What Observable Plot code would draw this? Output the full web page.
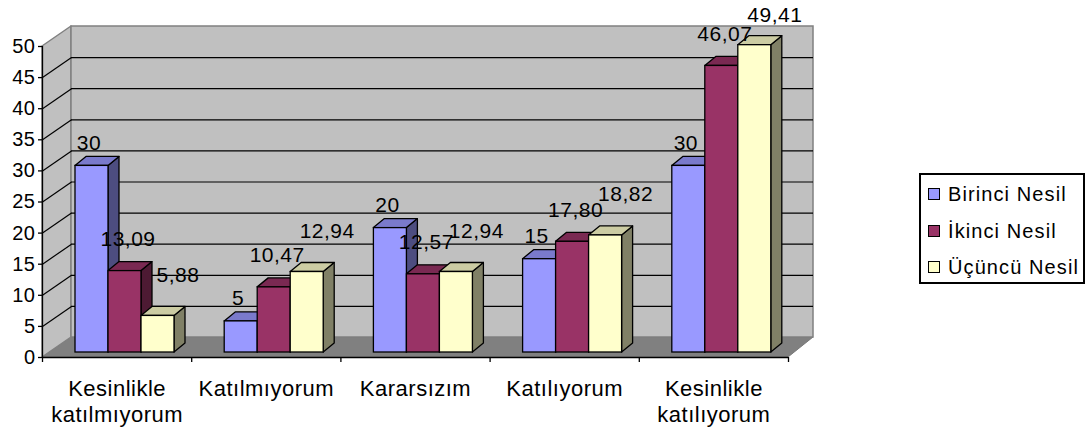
<!DOCTYPE html>
<html><head><meta charset="utf-8">
<script src="https://cdn.jsdelivr.net/npm/d3@7"></script>
<script src="https://cdn.jsdelivr.net/npm/@observablehq/plot@0.6"></script>
<style>
body{margin:0;background:#fff;font-family:"Liberation Sans",Arial,sans-serif}
#wrap{position:relative;width:1086px;height:430px}
#wrap svg text{letter-spacing:0.5px}
#legend{position:absolute;left:919px;top:173px;width:162px;height:107px;border:2px solid #000;background:#fff;box-sizing:content-box}
.row{position:absolute;left:0;height:24px;display:flex;align-items:center;font-size:20px;letter-spacing:1.1px;white-space:nowrap;color:#000}
.sw{width:12px;height:12px;box-sizing:border-box;border:1px solid #000;margin-left:7px;margin-right:8px}
</style></head><body><div id="wrap"></div>
<script>
// ---- data ----
const categories = ["Kesinlikle katılmıyorum", "Katılmıyorum", "Kararsızım", "Katılıyorum", "Kesinlikle katılıyorum"];
const series = ["Birinci Nesil", "İkinci Nesil", "Üçüncü Nesil"];
const birinci = [30, 5, 20, 15, 30];
const ikinci = [13.09, 10.47, 12.57, 17.80, 46.07];
const ucuncu = [5.88, 12.94, 12.94, 18.82, 49.41];
const yTicks = [0, 5, 10, 15, 20, 25, 30, 35, 40, 45, 50];

// ---- styling ----
const frontColors = ["#9999ff", "#993366", "#ffffcc"];
const topColors = ["#7a7acc", "#7a2952", "#cccca3"];
const sideColors = ["#4d4d80", "#4d1a33", "#808066"];

const W = 1086, H = 430, mL = 42, mR = 1086 - 788, mT = 46, mB = 430 - 357;
const yMax = 50;
const PX = (W - mL - mR) / categories.length; // px per category unit
const PY = (H - mT - mB) / yMax;              // px per value unit
const px = p => p / PX, py = p => p / PY;
const wallL = px(29), wallR = px(25), wallUp = py(20);
const barOff = px(33), barW = px(33), barBase = py(5), depX = px(11), depY = py(9);
const nC = categories.length;

const values = [birinci, ikinci, ucuncu];
const fmt = v => Number.isInteger(v) ? String(v) : v.toFixed(2).replace(".", ",");

const bars = [];
categories.forEach((c, i) => series.forEach((s, j) => {
  const v = values[j][i];
  const x0 = i + barOff + j * barW, x1 = x0 + barW;
  bars.push({c, i, s, j, v, x0, x1, y0: barBase, y1: barBase + v, id: i * 3 + j});
}));
const sides = bars.flatMap(b => [
  {id: b.id, j: b.j, x: b.x1, ya: b.y0, yb: b.y1},
  {id: b.id, j: b.j, x: b.x1 + depX, ya: b.y0 + depY, yb: b.y1 + depY}
]);
const tops = bars.flatMap(b => [
  {id: b.id, j: b.j, y: b.y1, xa: b.x0, xb: b.x1},
  {id: b.id, j: b.j, y: b.y1 + depY, xa: b.x0 + depX, xb: b.x1 + depX}
]);
// label nudges per series (px right, px up) and highest allowed label centre
const labelOffsets = [[-3, 23], [3, 32], [20, 41]];
const labelCeil = yMax + py(mT - 15);

const inner = yTicks.filter(v => v > 0 && v < yMax);

const chart = Plot.plot({
  width: W, height: H,
  marginLeft: mL, marginRight: mR, marginTop: mT, marginBottom: mB,
  x: {type: "linear", domain: [0, nC]},
  y: {type: "linear", domain: [0, yMax]},
  color: {type: "identity"},
  style: {fontFamily: "'Liberation Sans', Arial, sans-serif", fontSize: "20px", color: "#000", background: "#fff", overflow: "visible"},
  marks: [
    // floor
    Plot.areaX([{y: 0, xa: 0, xb: nC}, {y: wallUp, xa: wallL, xb: nC + wallR}],
      {y: "y", x1: "xa", x2: "xb", fill: "#808080", stroke: "#777", strokeWidth: 1}),
    // left wall
    Plot.areaY([{x: 0, ya: 0, yb: yMax}, {x: wallL, ya: wallUp, yb: yMax + wallUp}],
      {x: "x", y1: "ya", y2: "yb", fill: "#c0c0c0", stroke: "#808080", strokeWidth: 1.5}),
    // back wall
    Plot.rect([{}], {x1: wallL, x2: nC + wallR, y1: wallUp, y2: yMax + wallUp, fill: "#c0c0c0", stroke: "#808080", strokeWidth: 1.5}),
    // gridlines
    Plot.ruleY(inner, {y: v => v + wallUp, x1: wallL, x2: nC + wallR, stroke: "#000", strokeWidth: 1.2}),
    Plot.link(inner, {x1: 0, y1: v => v, x2: wallL, y2: v => v + wallUp, stroke: "#000", strokeWidth: 1.2}),
    // bars: sides, tops, fronts
    Plot.areaY(sides, {x: "x", y1: "ya", y2: "yb", z: "id", fill: d => sideColors[d.j], stroke: "#000", strokeWidth: 1.3, curve: "linear"}),
    Plot.areaX(tops, {y: "y", x1: "xa", x2: "xb", z: "id", fill: d => topColors[d.j], stroke: "#000", strokeWidth: 1.3, curve: "linear"}),
    Plot.rect(bars, {x1: "x0", x2: "x1", y1: "y0", y2: "y1", fill: d => frontColors[d.j], stroke: "#000", strokeWidth: 1.3}),
    // axes
    Plot.ruleX([0], {y1: 0, y2: yMax, stroke: "#000", strokeWidth: 1.3}),
    Plot.ruleY([0], {x1: 0, x2: nC, stroke: "#000", strokeWidth: 1.3}),
    Plot.axisY({ticks: yTicks, tickSize: 4, tickPadding: 3, fontSize: 20, label: null, stroke: "#000", strokeWidth: 1.3}),
    Plot.axisX({ticks: d3.range(nC + 1), tickFormat: () => "", tickSize: 5, label: null, stroke: "#000", strokeWidth: 1.3}),
    Plot.text(categories, {x: (d, i) => i + 0.5, y: 0, text: d => d.replace(" ", "\n"), lineAnchor: "top", dy: 20, fontSize: 22, lineHeight: 1.18, fill: "#000"}),
    // value labels
    ...series.map((s, j) => Plot.text(bars.filter(b => b.j === j), {
      x: d => (d.x0 + d.x1) / 2 + px(labelOffsets[j][0]),
      y: d => Math.min(d.y1 + py(labelOffsets[j][1]), labelCeil),
      text: d => fmt(d.v), fontSize: 21, fill: "#000", lineAnchor: "middle"
    }))
  ]
});
const wrap = document.getElementById("wrap");
wrap.appendChild(chart);

// legend
const legend = document.createElement("div");
legend.id = "legend";
const rowTops = [7, 44, 80];
series.forEach((s, j) => {
  const row = document.createElement("div");
  row.className = "row";
  row.style.top = rowTops[j] + "px";
  const sw = document.createElement("span");
  sw.className = "sw";
  sw.style.background = frontColors[j];
  const t = document.createElement("span");
  t.textContent = s;
  row.appendChild(sw); row.appendChild(t);
  legend.appendChild(row);
});
wrap.appendChild(legend);
</script>
</body></html>
